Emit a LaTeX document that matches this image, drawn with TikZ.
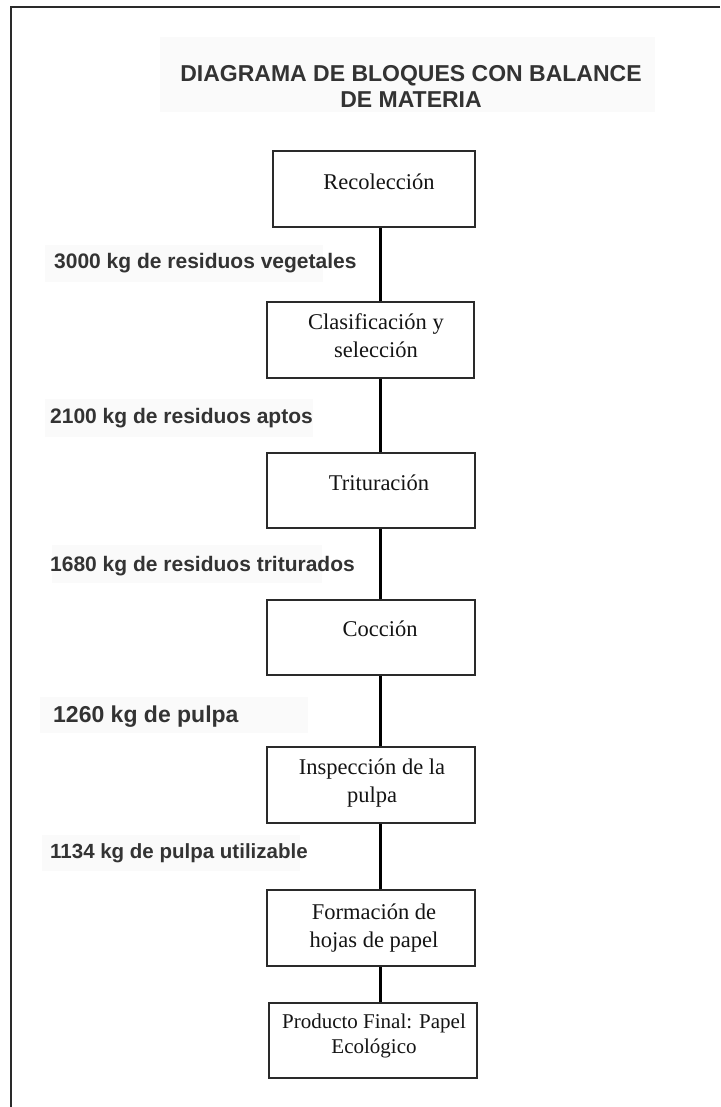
\documentclass[tikz,border=0pt]{standalone}
\usepackage{fontspec}
\setmainfont{Liberation Serif}
\setsansfont{Liberation Sans}
\usetikzlibrary{calc}
\definecolor{lbl}{HTML}{333333}
\definecolor{frm}{HTML}{2A2A2A}
\definecolor{bg}{HTML}{FAFAFA}
\tikzset{
  stepbox/.style={draw=frm, line width=2.8pt, rectangle, inner sep=0pt},
  boxtext/.style={font=\fontsize{22.5}{28}\selectfont\rmfamily, text=black!92, align=center, inner sep=0pt},
  flowlabel/.style={font=\fontsize{21}{24}\selectfont\sffamily\bfseries, text=lbl, anchor=west, inner sep=0pt},
  link/.style={draw=black, line width=3pt},
  faint/.style={fill=bg, draw=none}
}
\begin{document}
\begin{tikzpicture}[x=1pt,y=-1pt]
\useasboundingbox (0,0) rectangle (720,1107);
% outer frame (open at right and bottom)
\draw[draw=frm, line width=2.8pt] (720,7) -- (11,7) -- (11,1107);
% faint backgrounds
\fill[faint] (160,37) rectangle (655,112);
\fill[faint] (45,245) rectangle (323,282);
\fill[faint] (45,399) rectangle (313,437);
\fill[faint] (52,545) rectangle (322,583);
\fill[faint] (40,697) rectangle (308,733);
\fill[faint] (42,835) rectangle (300,871);
% title
\node[font=\fontsize{23}{26}\selectfont\sffamily\bfseries, text=lbl, align=center, inner sep=0pt] (title) at (411,86) {DIAGRAMA DE BLOQUES CON BALANCE\\DE MATERIA};
% boxes
\node[stepbox, minimum width=202pt, minimum height=76pt] (b1) at (374,189) {};
\node[stepbox, minimum width=207pt, minimum height=76pt] (b2) at (370.5,340) {};
\node[stepbox, minimum width=208pt, minimum height=75pt] (b3) at (371,490.5) {};
\node[stepbox, minimum width=208pt, minimum height=75pt] (b4) at (371,637.5) {};
\node[stepbox, minimum width=208pt, minimum height=76pt] (b5) at (371,785) {};
\node[stepbox, minimum width=208pt, minimum height=76pt] (b6) at (371,928) {};
\node[stepbox, minimum width=208pt, minimum height=75pt] (b7) at (373,1040.5) {};
% box texts
\node[boxtext] (t1) at (379,182) {Recolección};
\node[boxtext] (t2) at (376,336) {Clasificación y\\selección};
\node[boxtext] (t3) at (379,483) {Trituración};
\node[boxtext] (t4) at (380,629) {Cocción};
\node[boxtext] (t5) at (372,783) {Inspección de la\\pulpa};
\node[boxtext] (t6) at (374,928) {Formación de\\hojas de papel};
\node[boxtext, font=\fontsize{21}{25}\selectfont\rmfamily] (t7) at (374,1036) {Producto Final: Papel\\Ecológico};
% connector axis
\coordinate (axis) at (380,0);
\draw[link] (b1.south -| axis) -- (b2.north -| axis);
\draw[link] (b2.south -| axis) -- (b3.north -| axis);
\draw[link] (b3.south -| axis) -- (b4.north -| axis);
\draw[link] (b4.south -| axis) -- (b5.north -| axis);
\draw[link] (b5.south -| axis) -- (b6.north -| axis);
\draw[link] (b6.south -| axis) -- (b7.north -| axis);
% flow labels
\node[flowlabel] (l1) at (54,263) {3000 kg de residuos vegetales};
\node[flowlabel] (l2) at (50,418) {2100 kg de residuos aptos};
\node[flowlabel] (l3) at (50,566) {1680 kg de residuos triturados};
\node[flowlabel, font=\fontsize{23}{26}\selectfont\sffamily\bfseries] (l4) at (53,717) {1260 kg de pulpa};
\node[flowlabel, font=\fontsize{20.5}{24}\selectfont\sffamily\bfseries] (l5) at (50,853) {1134 kg de pulpa utilizable};
\end{tikzpicture}
\end{document}
